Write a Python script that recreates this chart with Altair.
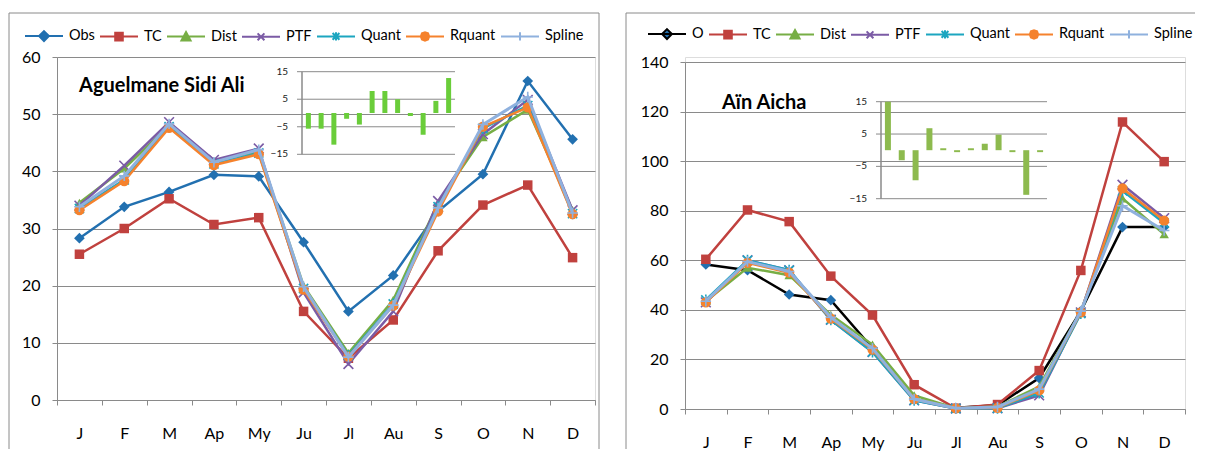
import altair as alt
import pandas as pd

FONT = "Lato"
GRAY = "#8a8a8a"

months = ["J", "F", "M", "Ap", "My", "Ju", "Jl", "Au", "S", "O", "N", "D"]

# ---------- Left panel: Aguelmane Sidi Ali ----------
names_l = ["Obs", "TC", "Dist", "PTF", "Quant", "Rquant", "Spline"]
obs_l = [28.3, 33.8, 36.4, 39.4, 39.1, 27.6, 15.5, 21.8, 33.0, 39.5, 55.8, 45.6]
tc_l = [25.5, 30.0, 35.2, 30.7, 31.9, 15.5, 7.3, 14.0, 26.1, 34.1, 37.6, 24.9]
dist_l = [34.5, 40.5, 48.0, 41.8, 43.5, 20.0, 8.2, 17.5, 34.5, 46.0, 50.8, 33.2]
ptf_l = [34.0, 41.0, 48.6, 42.0, 44.0, 18.8, 6.3, 15.5, 34.8, 46.5, 52.5, 33.2]
quant_l = [33.5, 38.5, 47.8, 41.3, 43.2, 19.5, 7.8, 16.8, 33.8, 47.5, 51.5, 32.6]
rquant_l = [33.2, 38.3, 47.6, 41.1, 43.0, 19.3, 7.6, 16.5, 33.0, 47.8, 51.2, 32.5]
spline_l = [33.8, 39.2, 48.3, 41.6, 43.8, 19.8, 7.5, 16.6, 33.6, 48.2, 53.0, 32.7]
inset_l = [-5.7, -5.7, -11.5, -2.1, -4.2, 8.0, 8.0, 5.0, -1.1, -7.9, 4.4, 12.7]
title_l = "Aguelmane Sidi Ali"

# ---------- Right panel: Aïn Aicha ----------
names_r = ["O", "TC", "Dist", "PTF", "Quant", "Rquant", "Spline"]
obs_r = [58.3, 56.0, 46.2, 43.9, 24.5, 4.0, 0.5, 1.5, 12.5, 39.5, 73.4, 73.4]
tc_r = [60.4, 80.3, 75.6, 53.6, 37.9, 9.8, 0.3, 1.8, 15.5, 55.9, 115.8, 99.8]
dist_r = [43.5, 57.0, 54.0, 38.0, 26.0, 5.5, 0.3, 1.0, 9.0, 39.5, 85.0, 70.5]
ptf_r = [43.0, 60.0, 56.0, 36.0, 23.0, 3.5, 0.2, 0.3, 5.5, 39.0, 90.5, 77.0]
quant_r = [44.0, 60.0, 56.0, 36.0, 23.0, 3.5, 0.2, 0.3, 6.5, 38.5, 88.0, 75.0]
rquant_r = [43.0, 59.0, 55.0, 36.5, 24.0, 4.0, 0.3, 0.5, 7.5, 39.0, 89.0, 76.0]
spline_r = [43.5, 59.5, 55.5, 37.0, 24.5, 4.0, 0.3, 0.8, 8.0, 39.5, 82.0, 72.0]
inset_r = [15.0, -3.1, -9.3, 6.8, 0.6, -0.6, 0.6, 2.0, 4.8, -0.6, -13.8, -0.6]
title_r = "Aïn Aicha"

inset_ticks = [15, 5, -5, -15]

# ---------- styles ----------
marker_colors = ["#2270B0", "#C0413E", "#77AE45", "#7B5BA5", "#1CA6C0", "#F5822D", "#8FB1DE"]
line_colors_l = ["#2270B0", "#C0413E", "#77AE45", "#7B5BA5", "#1CA6C0", "#F5822D", "#8FB1DE"]
line_colors_r = ["#000000", "#C0413E", "#77AE45", "#7B5BA5", "#1CA6C0", "#F5822D", "#8FB1DE"]
line_widths = [2.5, 2.5, 2.5, 2.5, 2.5, 2.5, 3.0]
marker_shapes = [
    "diamond", "square", "triangle-up",
    "M-1,-1L1,1M-1,1L1,-1",
    "M-1,-1L1,1M-1,1L1,-1M0,-1.2L0,1.2",
    "circle",
    "M-1.1,0L1.1,0M0,-1.1L0,1.1",
]
marker_filled = [True, True, True, False, False, True, False]
marker_sizes = [115, 90, 90, 95, 85, 105, 90]
legend_paths = [
    "M-1,0L1,0M0,-0.26L0.26,0L0,0.26L-0.26,0Z",
    "M-1,0L1,0M-0.2,-0.2L0.2,-0.2L0.2,0.2L-0.2,0.2Z",
    "M-1,0L1,0M0,-0.24L0.24,0.2L-0.24,0.2Z",
    "M-1,0L1,0M-0.18,-0.18L0.18,0.18M-0.18,0.18L0.18,-0.18",
    "M-1,0L1,0M-0.18,-0.18L0.18,0.18M-0.18,0.18L0.18,-0.18M0,-0.22L0,0.22",
    "M-1,0L1,0M0.22,0L0.16,0.16L0,0.22L-0.16,0.16L-0.22,0L-0.16,-0.16L0,-0.22L0.16,-0.16Z",
    "M-1,0L1,0M0,-0.22L0,0.22",
]


def panel(names, series, line_colors, ymax, W, H, ytop, inset_vals, ix, iy, bar_color,
          bar_w, title, title_pos, legend_pos, border):
    rows = []
    for n, vals in zip(names, series):
        for m, v in zip(months, vals):
            rows.append({"month": m, "series": n, "value": v})
    df = pd.DataFrame(rows)
    base = alt.Chart(df)

    X = alt.X("month:N", bandPosition=0.5,
              scale=alt.Scale(type="band", domain=months, paddingInner=0, paddingOuter=0),
              axis=alt.Axis(title=None, labelAngle=0, tickBand="extent", grid=False,
                            domainColor=GRAY, tickColor=GRAY, tickSize=5,
                            labelFont=FONT, labelFontSize=16, labelColor="#000",
                            labelPadding=20))
    Y = alt.Y("value:Q",
              scale=alt.Scale(domain=[0, ymax], range=[H, ytop], nice=False, zero=True),
              axis=alt.Axis(title=None, values=list(range(0, ymax + 1, 20 if ymax > 60 else 10)),
                            grid=True, gridColor=GRAY, domainColor=GRAY, tickColor=GRAY,
                            tickSize=5, labelPadding=12, labelFont=FONT,
                            labelFontSize=16, labelColor="#000"))

    layers = []
    for i, n in enumerate(names):
        sub = base.transform_filter(alt.datum.series == n)
        layers.append(sub.mark_line(color=line_colors[i], strokeWidth=line_widths[i])
                      .encode(x=X, y=Y))
        layers.append(sub.mark_point(shape=marker_shapes[i], size=marker_sizes[i],
                                     filled=marker_filled[i], color=marker_colors[i],
                                     strokeWidth=1.6, opacity=1)
                      .encode(x=X, y=Y))

    leg = alt.Legend(title=None, orient="none", legendX=legend_pos[0], legendY=legend_pos[1],
                     direction="horizontal", symbolSize=1444, symbolStrokeWidth=2,
                     labelFont=FONT, labelFontSize=14.5, labelColor="#000",
                     labelOffset=5, columnPadding=1, padding=0, symbolOpacity=1)
    legend_layer = base.transform_filter("false").mark_point(filled=True, strokeWidth=2).encode(
        x=X, y=Y,
        fill=alt.Fill("series:N", scale=alt.Scale(domain=names, range=marker_colors), legend=leg),
        stroke=alt.Stroke("series:N", scale=alt.Scale(domain=names, range=line_colors), legend=leg),
        shape=alt.Shape("series:N", scale=alt.Scale(domain=names, range=legend_paths), legend=leg),
    )
    layers.append(legend_layer)
    main = alt.layer(*layers)

    # inset bar chart
    idf = pd.DataFrame({"month": months, "d": inset_vals})
    gdf = pd.DataFrame({"g": inset_ticks})
    adf = pd.DataFrame({"top": [15], "bot": [-15]})
    iys = alt.Scale(domain=[-15, 15], range=[iy[0], iy[1]], nice=False, zero=False)
    IX = alt.X("month:N", scale=alt.Scale(type="band", domain=months, range=[ix[0], ix[1]],
                                          paddingInner=0, paddingOuter=0), axis=None)
    bars = alt.Chart(idf).mark_bar(size=bar_w, color=bar_color).encode(
        x=IX, y=alt.Y("d:Q", scale=iys, axis=None))
    grid = alt.Chart(gdf).mark_rule(color=GRAY, strokeWidth=1).encode(
        y=alt.Y("g:Q", scale=iys, axis=None), x=alt.value(ix[0] - 5), x2=alt.value(ix[1]))
    labels = alt.Chart(gdf).mark_text(align="right", baseline="middle", font=FONT,
                                      fontSize=10, color="#222").encode(
        y=alt.Y("g:Q", scale=iys, axis=None), x=alt.value(ix[0] - 14), text="g:Q")
    vax = alt.Chart(adf).mark_rule(color=GRAY, strokeWidth=1.5).encode(
        y=alt.Y("top:Q", scale=iys, axis=None), y2="bot:Q", x=alt.value(ix[0]))
    inset = alt.layer(grid, vax, bars, labels)

    tdf = pd.DataFrame({"t": [title]})
    title_layer = alt.Chart(tdf).mark_text(align="left", baseline="middle", font=FONT,
                                           fontSize=20, fontWeight="bold", color="#000").encode(
        text="t:N", x=alt.value(title_pos[0]), y=alt.value(title_pos[1]))

    bx0, bx1, by0, by1, right_edge = border
    edges = [alt.Chart(tdf).mark_rule(color=GRAY, strokeWidth=1).encode(
                 x=alt.value(bx0), x2=alt.value(bx1), y=alt.value(by0)),
             alt.Chart(tdf).mark_rule(color=GRAY, strokeWidth=1).encode(
                 x=alt.value(bx0), y=alt.value(by0), y2=alt.value(by1))]
    if right_edge:
        edges.append(alt.Chart(tdf).mark_rule(color=GRAY, strokeWidth=1).encode(
            x=alt.value(bx1), y=alt.value(by0), y2=alt.value(by1)))

    return (alt.layer(main, inset, title_layer, *edges)
            .resolve_scale(x="independent", y="independent")
            .properties(width=W, height=H))


# both panels share the same origin; right plot area starts 5 px lower
left = panel(names_l, [obs_l, tc_l, dist_l, ptf_l, quant_l, rquant_l, spline_l],
             line_colors_l, 60, 538, 343, 0, inset_l, (245, 398), (97.3, 14.7), "#6ACD3A", 5,
             title_l, (22, 29), (-33, -41), (-48, 542, -44, 392, True))
right = panel(names_r, [obs_r, tc_r, dist_r, ptf_r, quant_r, rquant_r, spline_r],
              line_colors_r, 140, 500, 352, 5, inset_r, (196, 362), (141.7, 44.7), "#8DBA4E", 6,
              title_r, (37, 46), (-38, -43), (-59, 510, -44, 392, False))

chart = (alt.hconcat(left, right, spacing=25)
         .resolve_scale(fill="independent", stroke="independent", shape="independent")
         .resolve_legend(fill="independent", stroke="independent", shape="independent")
         .properties(padding={"left": 0, "top": 4, "right": 0, "bottom": 0})
         .configure_view(stroke=None)
         .configure(background="white"))

chart.save("out.html", embed_options={"renderer": "svg", "actions": False})
